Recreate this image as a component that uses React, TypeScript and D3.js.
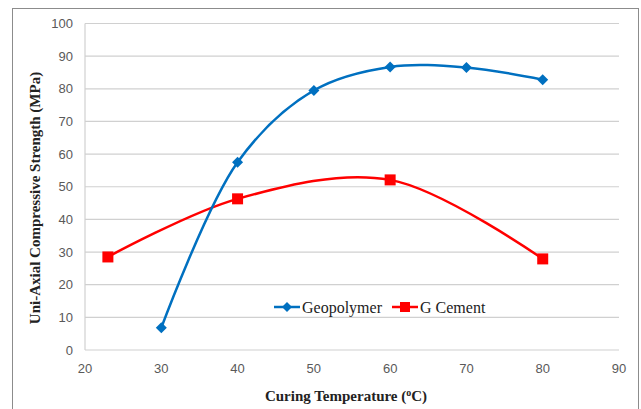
import React from "react";
import * as d3 from "d3";

const geoTemps = [30, 40, 50, 60, 70, 80];
const geoStrength = [6.8, 57.5, 79.5, 86.7, 86.5, 82.8];
const cementTemps = [23, 40, 60, 80];
const cementStrength = [28.5, 46.3, 52.1, 27.9];
const xTicks = [20, 30, 40, 50, 60, 70, 80, 90];
const yTicks = [0, 10, 20, 30, 40, 50, 60, 70, 80, 90, 100];

const W = 641;
const H = 409;
const plot = { left: 85, right: 619, top: 23.5, bottom: 350 };

export default function App() {
  const x = d3.scaleLinear().domain([20, 90]).range([plot.left, plot.right]);
  const y = d3.scaleLinear().domain([0, 100]).range([plot.bottom, plot.top]);

  const line = d3
    .line<[number, number]>()
    .x((d) => x(d[0]))
    .y((d) => y(d[1]))
    .curve(d3.curveCatmullRom.alpha(0.5));

  const geo: [number, number][] = geoTemps.map((t, i) => [t, geoStrength[i]]);
  const cem: [number, number][] = cementTemps.map((t, i) => [t, cementStrength[i]]);

  const blue = "#0070C0";
  const red = "#FF0000";
  const tickFont = "'Liberation Sans', Arial, sans-serif";
  const serif = "'Liberation Serif', 'Times New Roman', serif";

  const diamond = (cx: number, cy: number, r: number) =>
    `M${cx},${cy - r}L${cx + r},${cy}L${cx},${cy + r}L${cx - r},${cy}Z`;

  return (
    <svg
      width={W}
      height={H}
      style={{ position: "absolute", left: 0, top: 0, background: "#fff" }}
    >
      <rect x={12.5} y={8.5} width={626} height={420} fill="#fff" stroke="#8c8c8c" strokeWidth={1} />

      {yTicks.map((t) => (
        <line
          key={"g" + t}
          x1={plot.left}
          x2={plot.right}
          y1={y(t)}
          y2={y(t)}
          stroke="#d0d0d0"
          strokeWidth={1.2}
        />
      ))}
      <line x1={plot.left} x2={plot.left} y1={plot.top} y2={plot.bottom} stroke="#d0d0d0" strokeWidth={1.2} />

      {yTicks.map((t) => (
        <text
          key={"yt" + t}
          x={73}
          y={y(t)}
          dy="0.35em"
          textAnchor="end"
          fontFamily={tickFont}
          fontSize={13}
          fill="#595959"
        >
          {t}
        </text>
      ))}
      {xTicks.map((t) => (
        <text
          key={"xt" + t}
          x={x(t)}
          y={368}
          dy="0.35em"
          textAnchor="middle"
          fontFamily={tickFont}
          fontSize={13}
          fill="#595959"
        >
          {t}
        </text>
      ))}

      <path d={line(cem) ?? ""} fill="none" stroke={red} strokeWidth={2.5} />
      <path d={line(geo) ?? ""} fill="none" stroke={blue} strokeWidth={2.5} />

      {cem.map((d, i) => (
        <rect key={"c" + i} x={x(d[0]) - 5.5} y={y(d[1]) - 5.5} width={11} height={11} fill={red} />
      ))}
      {geo.map((d, i) => (
        <path key={"p" + i} d={diamond(x(d[0]), y(d[1]), 5.5)} fill={blue} />
      ))}

      {/* legend */}
      <g>
        <line x1={274} x2={300} y1={307} y2={307} stroke={blue} strokeWidth={2.5} />
        <path d={diamond(287, 307, 5)} fill={blue} />
        <text x={302} y={307} dy="0.35em" fontFamily={serif} fontSize={16} fill="#222">
          Geopolymer
        </text>
        <line x1={392} x2={418} y1={307} y2={307} stroke={red} strokeWidth={2.5} />
        <rect x={400} y={302} width={10} height={10} fill={red} />
        <text x={420} y={307} dy="0.35em" fontFamily={serif} fontSize={16} fill="#222">
          G Cement
        </text>
      </g>

      <text
        x={346}
        y={396}
        dy="0.35em"
        textAnchor="middle"
        fontFamily={serif}
        fontSize={15}
        fontWeight="bold"
        fill="#222"
      >
        Curing Temperature (<tspan fontSize={10} dy="-5">o</tspan>
        <tspan dy="5">C)</tspan>
      </text>
      <text
        transform={`translate(35, 198) rotate(-90)`}
        dy="0.35em"
        textAnchor="middle"
        fontFamily={serif}
        fontSize={15}
        fontWeight="bold"
        fill="#222"
      >
        Uni-Axial Compressive Strength (MPa)
      </text>
    </svg>
  );
}
